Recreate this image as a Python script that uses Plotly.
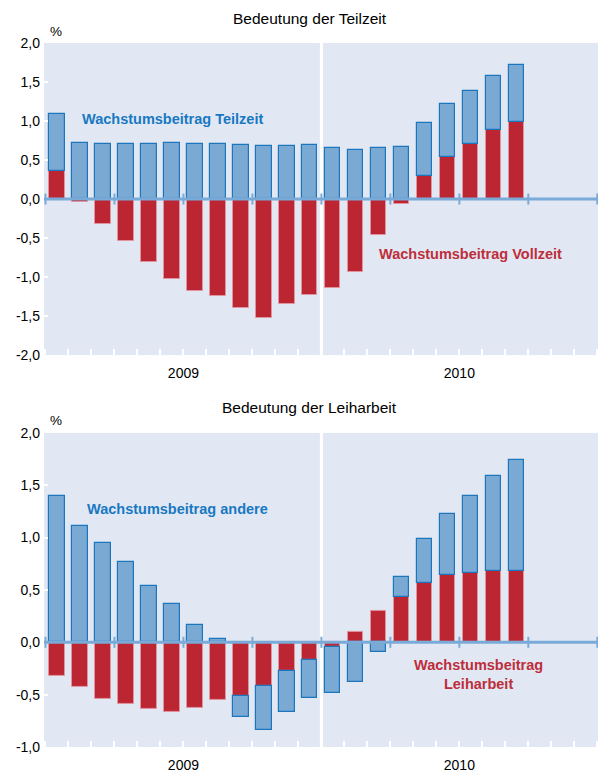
import plotly.graph_objects as go

# ---- data ----
months = list(range(21))  # Jan 2009 .. Sep 2010
year_labels = ["2009", "2010"]
ytick_vals_top = [-2.0, -1.5, -1.0, -0.5, 0.0, 0.5, 1.0, 1.5, 2.0]
ytick_text_top = ["-2,0", "-1,5", "-1,0", "-0,5", "0,0", "0,5", "1,0", "1,5", "2,0"]
ytick_vals_bot = [-1.0, -0.5, 0.0, 0.5, 1.0, 1.5, 2.0]
ytick_text_bot = ["-1,0", "-0,5", "0,0", "0,5", "1,0", "1,5", "2,0"]

vollzeit = [0.36, -0.04, -0.32, -0.54, -0.81, -1.02, -1.18, -1.24, -1.40, -1.53, -1.35,
            -1.23, -1.14, -0.93, -0.46, -0.06, 0.29, 0.54, 0.70, 0.88, 0.99]
teilzeit = [0.73, 0.72, 0.71, 0.71, 0.70, 0.72, 0.71, 0.71, 0.69, 0.68, 0.68,
            0.69, 0.65, 0.63, 0.66, 0.67, 0.69, 0.68, 0.69, 0.70, 0.73]

leiharbeit = [-0.32, -0.43, -0.54, -0.59, -0.64, -0.66, -0.63, -0.55, -0.51, -0.42, -0.27,
              -0.17, -0.04, 0.10, 0.30, 0.43, 0.57, 0.64, 0.66, 0.68, 0.68]
andere = [1.40, 1.11, 0.95, 0.77, 0.54, 0.37, 0.17, 0.03, -0.20, -0.42, -0.39,
          -0.36, -0.44, -0.38, -0.09, 0.19, 0.42, 0.59, 0.74, 0.91, 1.06]

# ---- styles ----
BLUE_FILL = "rgb(122,170,212)"
BLUE_EDGE = "rgb(28,118,190)"
RED_FILL = "rgb(187,38,50)"
RED_EDGE = "rgba(226,150,160,0.9)"
BG = "rgb(225,232,243)"
ZERO = "rgb(122,170,215)"
BLUE_TXT = "rgb(24,120,194)"
RED_TXT = "rgb(190,45,58)"
FONT = "Liberation Sans, Arial, sans-serif"
BW = 0.66
XR = [-0.565, 23.53]

fig = go.Figure()

def add_pair(red, blue, xa, ya):
    fig.add_trace(go.Bar(x=months, y=red, width=BW, marker=dict(color=RED_FILL, line=dict(color=RED_EDGE, width=1)),
                         xaxis=xa, yaxis=ya, showlegend=False, hoverinfo="y"))
    fig.add_trace(go.Bar(x=months, y=blue, width=BW, marker=dict(color=BLUE_FILL, line=dict(color=BLUE_EDGE, width=1.2)),
                         xaxis=xa, yaxis=ya, showlegend=False, hoverinfo="y"))

add_pair(vollzeit, teilzeit, "x", "y")
add_pair(leiharbeit, andere, "x2", "y2")

H = 773
mt, mb = 43, 24
plot_h = H - mt - mb
top_dom = [(H - 356 - mb) / plot_h, 1.0]
bot_dom = [0.0, (H - 434 - mb) / plot_h]

def xaxis_cfg(anchor):
    return dict(range=XR, anchor=anchor, tickmode="array", tickvals=[5.5, 17.5], ticktext=year_labels,
                ticks="", showgrid=False, zeroline=False, showline=False, ticklabelstandoff=8,
                tickfont=dict(size=14, color="black", family=FONT),
                minor=dict(tickmode="linear", tick0=-0.5, dtick=1, ticks="inside", ticklen=6,
                           tickcolor="white", tickwidth=2, showgrid=False))

def yaxis_cfg(anchor, dom, rng, vals, text):
    return dict(domain=dom, anchor=anchor, range=rng, tickmode="array", tickvals=vals, ticktext=text,
                ticks="inside", ticklen=4, tickcolor="white", tickwidth=2, showgrid=False, zeroline=False,
                showline=False, ticklabelstandoff=3, tickfont=dict(size=14, color="black", family=FONT))

fig.update_layout(
    width=598, height=773,
    margin=dict(l=44, r=0, t=mt, b=mb),
    paper_bgcolor="white", plot_bgcolor=BG,
    barmode="relative", bargap=0,
    font=dict(family=FONT, size=13, color="black"),
    xaxis=xaxis_cfg("y"),
    xaxis2=xaxis_cfg("y2"),
    yaxis=yaxis_cfg("x", top_dom, [-2.0, 2.0], ytick_vals_top, ytick_text_top),
    yaxis2=yaxis_cfg("x2", bot_dom, [-1.0, 2.0], ytick_vals_bot, ytick_text_bot),
)

shapes = []
for xr, yr in (("x", "y"), ("x2", "y2")):
    # white divider between the years
    shapes.append(dict(type="line", xref=xr, yref=yr + " domain", x0=11.5, x1=11.5, y0=0, y1=1,
                       line=dict(color="white", width=3), layer="below"))
    # zero line
    shapes.append(dict(type="line", xref=xr + " domain", yref=yr, x0=0, x1=1, y0=0, y1=0,
                       line=dict(color=ZERO, width=3), layer="above"))
    # quarterly ticks on the zero line
    for q in range(9):
        xq = -0.5 + 3 * q
        shapes.append(dict(type="line", xref=xr, yref=yr, ysizemode="pixel", yanchor=0, y0=-5.5, y1=5.5,
                           x0=xq, x1=xq, line=dict(color=ZERO, width=2), layer="above"))
fig.update_layout(shapes=shapes)

ann = []
for yr, title in (("y", "Bedeutung der Teilzeit"), ("y2", "Bedeutung der Leiharbeit")):
    ann.append(dict(text=title, xref="paper", yref=yr + " domain", x=0.48, y=1, yshift=25,
                    xanchor="center", yanchor="middle", showarrow=False,
                    font=dict(size=15.5, color="black", family=FONT)))
    ann.append(dict(text="%", xref="paper", yref=yr + " domain", x=0.022, y=1, yshift=12,
                    xanchor="center", yanchor="middle", showarrow=False,
                    font=dict(size=13.5, color="black", family=FONT)))

ann.append(dict(text="<b>Wachstumsbeitrag Teilzeit</b>", xref="x", yref="y", x=1.0, y=1.025,
                xanchor="left", yanchor="middle", showarrow=False, font=dict(size=14.5, color=BLUE_TXT, family=FONT)))
ann.append(dict(text="<b>Wachstumsbeitrag Vollzeit</b>", xref="x", yref="y", x=13.9, y=-0.71,
                xanchor="left", yanchor="middle", showarrow=False, font=dict(size=14.5, color=RED_TXT, family=FONT)))
ann.append(dict(text="<b>Wachstumsbeitrag andere</b>", xref="x2", yref="y2", x=1.22, y=1.275,
                xanchor="left", yanchor="middle", showarrow=False, font=dict(size=14.5, color=BLUE_TXT, family=FONT)))
ann.append(dict(text="<b>Wachstumsbeitrag<br>Leiharbeit</b>", xref="x2", yref="y2", x=18.35, y=-0.31,
                xanchor="center", yanchor="middle", align="center", showarrow=False,
                font=dict(size=14.5, color=RED_TXT, family=FONT)))
fig.update_layout(annotations=ann)

fig.write_html("out.html", config={"displayModeBar": False},
               post_script="document.body.style.margin='0';document.body.style.padding='0';")
